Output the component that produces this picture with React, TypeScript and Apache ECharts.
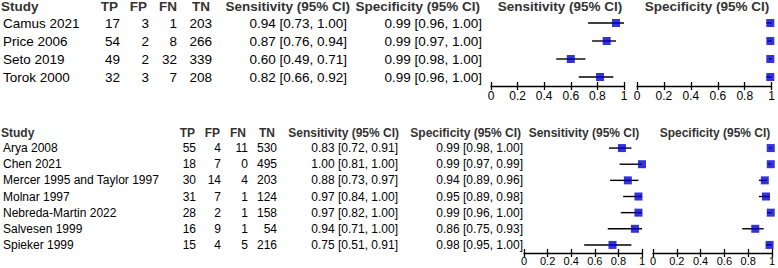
import React, { useEffect, useRef } from "react";
import * as echarts from "echarts";

// ---------- data ----------
const topStudies = ["Camus 2021", "Price 2006", "Seto 2019", "Torok 2000"];
const topTP = [17, 54, 49, 32];
const topFP = [3, 2, 2, 3];
const topFN = [1, 8, 32, 7];
const topTN = [203, 266, 339, 208];
const topSens = [0.94, 0.87, 0.6, 0.82];
const topSensLo = [0.73, 0.76, 0.49, 0.66];
const topSensHi = [1.0, 0.94, 0.71, 0.92];
const topSpec = [0.99, 0.99, 0.99, 0.99];
const topSpecLo = [0.96, 0.97, 0.98, 0.96];
const topSpecHi = [1.0, 1.0, 1.0, 1.0];

const botStudies = [
  "Arya 2008",
  "Chen 2021",
  "Mercer 1995 and Taylor 1997",
  "Molnar 1997",
  "Nebreda-Martin 2022",
  "Salvesen 1999",
  "Spieker 1999",
];
const botTP = [55, 18, 30, 31, 28, 16, 15];
const botFP = [4, 7, 14, 7, 2, 9, 4];
const botFN = [11, 0, 4, 1, 1, 1, 5];
const botTN = [530, 495, 203, 124, 158, 54, 216];
const botSens = [0.83, 1.0, 0.88, 0.97, 0.97, 0.94, 0.75];
const botSensLo = [0.72, 0.81, 0.73, 0.84, 0.82, 0.71, 0.51];
const botSensHi = [0.91, 1.0, 0.97, 1.0, 1.0, 1.0, 0.91];
const botSpec = [0.99, 0.99, 0.94, 0.95, 0.99, 0.86, 0.98];
const botSpecLo = [0.98, 0.97, 0.89, 0.89, 0.96, 0.75, 0.95];
const botSpecHi = [1.0, 0.99, 0.96, 0.98, 1.0, 0.93, 1.0];

const headers = ["Study", "TP", "FP", "FN", "TN", "Sensitivity (95% CI)", "Specificity (95% CI)"];
const axisTicks = [0, 0.2, 0.4, 0.6, 0.8, 1];

// ---------- styles ----------
const FONT = '"Liberation Sans", Arial, Helvetica, sans-serif';
const BLUE = "#0000CC";

type PanelData = {
  studies: string[];
  tp: number[];
  fp: number[];
  fn: number[];
  tn: number[];
  sens: number[];
  sensLo: number[];
  sensHi: number[];
  spec: number[];
  specLo: number[];
  specHi: number[];
};

type Layout = {
  fontSize: number;
  tickFont: number;
  gridTop: number;
  gridHeight: number;
  sensLeft: number;
  sensWidth: number;
  specLeft: number;
  specWidth: number;
  studyX: number;
  colRights: number[];
  sensRight: number;
  specRight: number;
  headerY: number;
  headerRights: number[];
  sensHeadRight: number;
  specHeadRight: number;
  plotSensCenter: number;
  plotSpecCenter: number;
  tickLen: number;
  labelMargin: number;
  symbolSize: number;
};

const fmtCI = (v: number, lo: number, hi: number) =>
  `${v.toFixed(2)} [${lo.toFixed(2)}, ${hi.toFixed(2)}]`;

function addPanel(option: any, d: PanelData, L: Layout) {
  const gSens = option.grid.length;
  option.grid.push({ left: L.sensLeft, top: L.gridTop, width: L.sensWidth, height: L.gridHeight });
  const gSpec = option.grid.length;
  option.grid.push({ left: L.specLeft, top: L.gridTop, width: L.specWidth, height: L.gridHeight });

  const mkX = (gi: number) => {
    const a = option.xAxis.length;
    option.xAxis.push({
      type: "value",
      gridIndex: gi,
      min: 0,
      max: 1,
      interval: 0.2,
      position: "bottom",
      axisLine: { show: true, lineStyle: { color: "#000", width: 1.3 } },
      axisTick: { show: true, inside: false, length: L.tickLen, lineStyle: { color: "#000", width: 1.3 } },
      axisLabel: {
        show: true,
        margin: L.labelMargin,
        fontSize: L.tickFont,
        fontFamily: FONT,
        color: "#000",
        formatter: (v: number) => String(axisTicks.find((t) => Math.abs(t - v) < 1e-6) ?? v),
      },
      splitLine: { show: false },
    });
    option.xAxis.push({
      type: "value",
      gridIndex: gi,
      min: 0,
      max: 1,
      interval: 0.2,
      position: "bottom",
      axisLine: { show: false },
      axisTick: { show: true, inside: true, length: L.tickLen, lineStyle: { color: "#000", width: 1.3 } },
      axisLabel: { show: false },
      splitLine: { show: false },
    });
    return a;
  };
  const xSens = mkX(gSens);
  const xSpec = mkX(gSpec);

  const mkCatY = (gi: number) => {
    const i = option.yAxis.length;
    option.yAxis.push({
      type: "category",
      gridIndex: gi,
      data: d.studies,
      inverse: true,
      show: false,
    });
    return i;
  };
  const ySens = mkCatY(gSens);
  const ySpec = mkCatY(gSpec);

  const mkCol = (right: number, fmt: (i: number) => string, alignLeft = false) => {
    option.yAxis.push({
      type: "category",
      gridIndex: gSens,
      data: d.studies,
      inverse: true,
      position: "left",
      offset: L.sensLeft - right,
      axisLine: { show: false },
      axisTick: { show: false },
      splitLine: { show: false },
      axisLabel: {
        show: true,
        interval: 0,
        margin: 0,
        align: alignLeft ? "left" : "right",
        fontSize: L.fontSize,
        fontFamily: FONT,
        color: "#000",
        padding: [5, 0, 0, 0],
        formatter: (_v: string, i: number) => fmt(i),
      },
    });
  };
  mkCol(L.studyX, (i) => d.studies[i], true);
  mkCol(L.colRights[0], (i) => String(d.tp[i]));
  mkCol(L.colRights[1], (i) => String(d.fp[i]));
  mkCol(L.colRights[2], (i) => String(d.fn[i]));
  mkCol(L.colRights[3], (i) => String(d.tn[i]));
  mkCol(L.sensRight, (i) => fmtCI(d.sens[i], d.sensLo[i], d.sensHi[i]));
  mkCol(L.specRight, (i) => fmtCI(d.spec[i], d.specLo[i], d.specHi[i]));

  const ciRender = (_p: any, api: any) => {
    const p1 = api.coord([api.value(0), api.value(2)]);
    const p2 = api.coord([api.value(1), api.value(2)]);
    return {
      type: "line",
      shape: { x1: p1[0], y1: p1[1], x2: p2[0], y2: p2[1] },
      style: { stroke: "#000", lineWidth: 1.4 },
    };
  };

  const addSeries = (xi: number, yi: number, v: number[], lo: number[], hi: number[]) => {
    option.series.push({
      type: "custom",
      xAxisIndex: xi,
      yAxisIndex: yi,
      clip: false,
      z: 2,
      renderItem: ciRender,
      encode: { x: [0, 1], y: 2 },
      data: d.studies.map((_s, i) => [lo[i], hi[i], i]),
    });
    option.series.push({
      type: "scatter",
      xAxisIndex: xi,
      yAxisIndex: yi,
      clip: false,
      z: 3,
      symbol: "rect",
      symbolSize: L.symbolSize,
      itemStyle: { color: BLUE },
      data: d.studies.map((_s, i) => [v[i], i]),
    });
  };
  addSeries(xSens, ySens, d.sens, d.sensLo, d.sensHi);
  addSeries(xSpec, ySpec, d.spec, d.specLo, d.specHi);

  const hText = (text: string, x: number, align: string) => ({
    type: "text",
    x,
    y: L.headerY,
    style: {
      text,
      align,
      verticalAlign: "middle",
      fontSize: L.fontSize,
      fontWeight: "bold",
      fontFamily: FONT,
      fill: "#333",
    },
  });
  option.graphic.push(hText(headers[0], L.studyX, "left"));
  for (let k = 0; k < 4; k++) option.graphic.push(hText(headers[k + 1], L.headerRights[k], "right"));
  option.graphic.push(hText(headers[5], L.sensHeadRight, "right"));
  option.graphic.push(hText(headers[6], L.specHeadRight, "right"));
  option.graphic.push(hText(headers[5], L.plotSensCenter, "center"));
  option.graphic.push(hText(headers[6], L.plotSpecCenter, "center"));
}

const topData: PanelData = {
  studies: topStudies, tp: topTP, fp: topFP, fn: topFN, tn: topTN,
  sens: topSens, sensLo: topSensLo, sensHi: topSensHi,
  spec: topSpec, specLo: topSpecLo, specHi: topSpecHi,
};
const botData: PanelData = {
  studies: botStudies, tp: botTP, fp: botFP, fn: botFN, tn: botTN,
  sens: botSens, sensLo: botSensLo, sensHi: botSensHi,
  spec: botSpec, specLo: botSpecLo, specHi: botSpecHi,
};

const topLayout: Layout = {
  fontSize: 13.5,
  tickFont: 12,
  gridTop: 14,
  gridHeight: 72,
  sensLeft: 489,
  sensWidth: 135,
  specLeft: 637,
  specWidth: 135,
  studyX: 1,
  colRights: [118, 147, 175, 210],
  sensRight: 345,
  specRight: 480,
  headerY: 6,
  headerRights: [118, 147, 177, 210],
  sensHeadRight: 350,
  specHeadRight: 480,
  plotSensCenter: 560,
  plotSpecCenter: 707,
  tickLen: 4,
  labelMargin: 4,
  symbolSize: 8,
};

const botLayout: Layout = {
  fontSize: 12,
  tickFont: 11,
  gridTop: 140,
  gridHeight: 113,
  sensLeft: 522,
  sensWidth: 120,
  specLeft: 653,
  specWidth: 120,
  studyX: 1,
  colRights: [194, 219, 246, 275],
  sensRight: 396,
  specRight: 521,
  headerY: 133,
  headerRights: [195, 220, 246, 275],
  sensHeadRight: 399,
  specHeadRight: 521,
  plotSensCenter: 584,
  plotSpecCenter: 715,
  tickLen: 4,
  labelMargin: 2,
  symbolSize: 8,
};

export default function App() {
  const ref = useRef<HTMLDivElement>(null);
  useEffect(() => {
    if (!ref.current) return;
    const chart = echarts.init(ref.current, undefined, { renderer: "svg" });
    const option: any = {
      animation: false,
      backgroundColor: "#fff",
      grid: [],
      xAxis: [],
      yAxis: [],
      series: [],
      graphic: [],
    };
    addPanel(option, topData, topLayout);
    addPanel(option, botData, botLayout);
    chart.setOption(option);
    return () => chart.dispose();
  }, []);
  return (
    <div
      ref={ref}
      style={{ position: "fixed", left: 0, top: 0, width: 778, height: 268, background: "#fff" }}
    />
  );
}
